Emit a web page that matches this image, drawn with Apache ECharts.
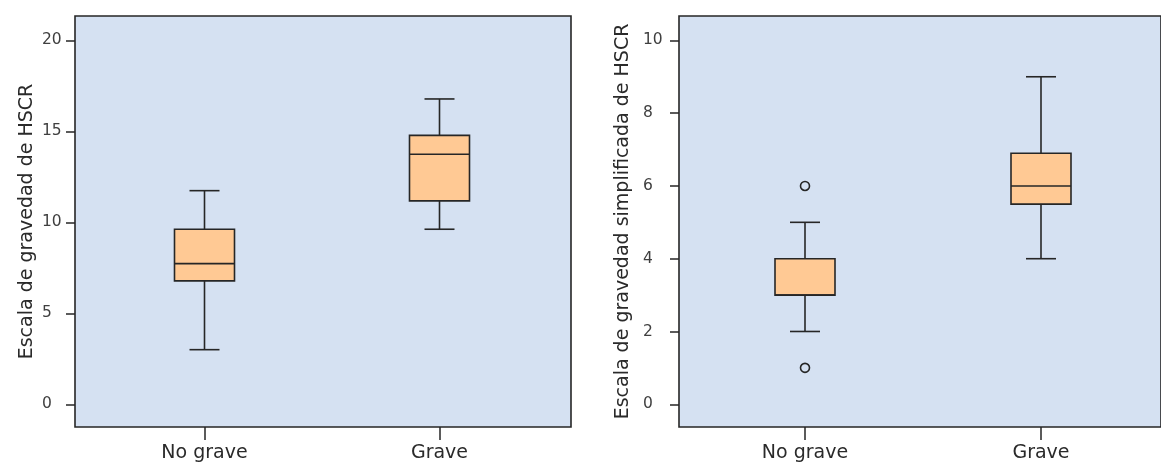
<!DOCTYPE html>
<html>
<head>
<meta charset="utf-8">
<script src="https://cdn.jsdelivr.net/npm/echarts@6/dist/echarts.min.js"></script>
<style>
  html, body { margin: 0; padding: 0; background: #ffffff; }
  #chart { width: 1161px; height: 464px; }
</style>
</head>
<body>
<div id="chart"></div>
<script>
// Groups on the horizontal axis
const categories = ['No grave', 'Grave'];

// Five-number summaries: [min whisker, Q1, median, Q3, max whisker]
const hscrNoGrave = [3, 6.78, 7.73, 9.62, 11.74];
const hscrGrave = [9.62, 11.18, 13.74, 14.78, 16.78];
const simpNoGrave = [2, 3, 3, 4, 5];
const simpGrave = [4, 5.5, 6, 6.9, 9];

// Outlying observations of the simplified scale (No grave group)
const simpNoGraveOutliers = [6, 1];

// Tick values on the vertical axes
const hscrTicks = [0, 5, 10, 15, 20];
const simpTicks = [0, 2, 4, 6, 8, 10];

const FONT = 'DejaVu Sans';
const PLOT_BG = '#d5e1f2';
const INK = '#262626';
const BOX_FILL = '#ffc994';

function boxRows(stats) {
  return stats.map(function (s, i) { return [i].concat(s); });
}

function renderBox(params, api) {
  const x = api.value(0);
  const lo = api.coord([x, api.value(1)]);
  const q1 = api.coord([x, api.value(2)]);
  const med = api.coord([x, api.value(3)]);
  const q3 = api.coord([x, api.value(4)]);
  const hi = api.coord([x, api.value(5)]);
  const cx = lo[0];
  const half = 30, cap = 15;
  const stroke = { stroke: INK, lineWidth: 1.6 };
  return {
    type: 'group',
    children: [
      { type: 'line', shape: { x1: cx, y1: hi[1], x2: cx, y2: q3[1] }, style: stroke },
      { type: 'line', shape: { x1: cx, y1: q1[1], x2: cx, y2: lo[1] }, style: stroke },
      { type: 'line', shape: { x1: cx - cap, y1: hi[1], x2: cx + cap, y2: hi[1] }, style: stroke },
      { type: 'line', shape: { x1: cx - cap, y1: lo[1], x2: cx + cap, y2: lo[1] }, style: stroke },
      { type: 'rect', shape: { x: cx - half, y: q3[1], width: half * 2, height: q1[1] - q3[1] },
        style: { fill: BOX_FILL, stroke: INK, lineWidth: 1.6 } },
      { type: 'line', shape: { x1: cx - half, y1: med[1], x2: cx + half, y2: med[1] }, style: stroke }
    ]
  };
}

function frameYAxis(gridIndex, min, max, ticks, name, margin, nameGap) {
  return {
    gridIndex: gridIndex,
    type: 'value',
    min: min,
    max: max,
    name: name,
    nameLocation: 'middle',
    nameGap: nameGap,
    nameTextStyle: { fontFamily: FONT, fontSize: 19, color: '#2a2a2a' },
    axisLine: { show: false },
    axisTick: { show: true, inside: false, length: 9, customValues: ticks,
                lineStyle: { color: INK, width: 1.5 } },
    axisLabel: { customValues: ticks, fontFamily: FONT, fontSize: 15.5, color: '#404040',
                 align: 'left', margin: margin },
    splitLine: { show: false }
  };
}

function hiddenYAxis(gridIndex, min, max) {
  return { gridIndex: gridIndex, type: 'value', min: min, max: max, show: false, splitLine: { show: false } };
}

function categoryXAxis(gridIndex) {
  return {
    gridIndex: gridIndex,
    type: 'category',
    data: categories,
    axisLine: { show: false, onZero: false },
    axisTick: { show: true, alignWithLabel: true, length: 13, lineStyle: { color: INK, width: 1.5 } },
    axisLabel: { fontFamily: FONT, fontSize: 19, color: '#2a2a2a', margin: 17 },
    splitLine: { show: false }
  };
}

function hiddenXAxis(gridIndex) {
  return { gridIndex: gridIndex, type: 'value', min: 0, max: 1, show: false,
           axisLine: { onZero: false }, splitLine: { show: false } };
}

const chart = echarts.init(document.getElementById('chart'), null, { renderer: 'canvas' });

chart.setOption({
  animation: false,
  backgroundColor: '#ffffff',
  grid: [
    // framed plot areas
    { left: 75, width: 496, top: 16, bottom: 37, show: true, backgroundColor: PLOT_BG,
      borderColor: INK, borderWidth: 1.6 },
    { left: 87, width: 470, top: 16, bottom: 37 },
    { left: 679, right: -30, top: 16, bottom: 37, show: true, backgroundColor: PLOT_BG,
      borderColor: INK, borderWidth: 1.6 },
    { left: 687, width: 472, top: 16, bottom: 37 }
  ],
  xAxis: [hiddenXAxis(0), categoryXAxis(1), hiddenXAxis(2), categoryXAxis(3)],
  yAxis: [
    frameYAxis(0, -1.25, 21.34, hscrTicks, 'Escala de gravedad de HSCR', 33, 38),
    hiddenYAxis(1, -1.25, 21.34),
    frameYAxis(2, -0.625, 10.67, simpTicks, 'Escala de gravedad simplificada de HSCR', 36, 46),
    hiddenYAxis(3, -0.625, 10.67)
  ],
  series: [
    {
      type: 'custom',
      xAxisIndex: 1, yAxisIndex: 1,
      renderItem: renderBox,
      encode: { x: 0, y: [1, 2, 3, 4, 5] },
      data: boxRows([hscrNoGrave, hscrGrave]),
      z: 3
    },
    {
      type: 'custom',
      xAxisIndex: 3, yAxisIndex: 3,
      renderItem: renderBox,
      encode: { x: 0, y: [1, 2, 3, 4, 5] },
      data: boxRows([simpNoGrave, simpGrave]),
      z: 3
    },
    {
      type: 'scatter',
      xAxisIndex: 3, yAxisIndex: 3,
      symbol: 'circle',
      symbolSize: 9,
      itemStyle: { color: PLOT_BG, borderColor: INK, borderWidth: 1.6, opacity: 1 },
      data: simpNoGraveOutliers.map(function (v) { return [0, v]; }),
      z: 4
    }
  ]
});
</script>
</body>
</html>
